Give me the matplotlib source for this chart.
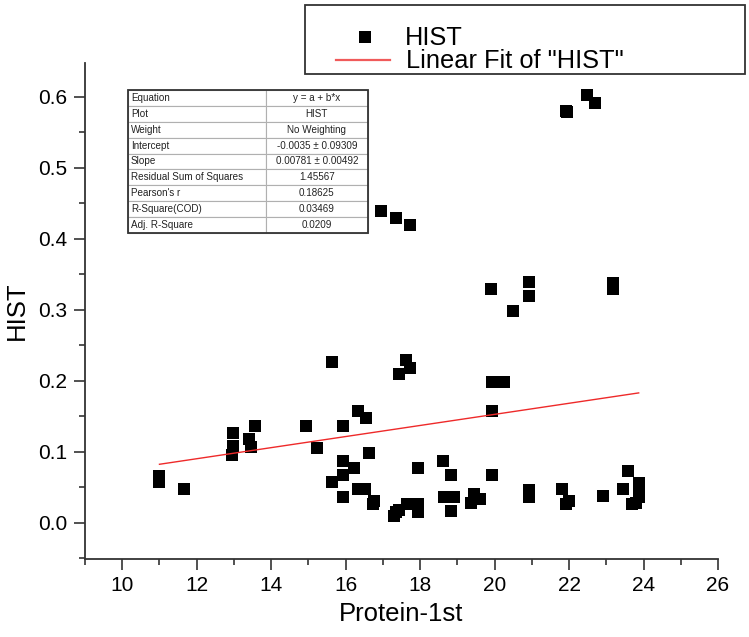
import matplotlib
matplotlib.use("Agg")
import matplotlib.pyplot as plt
from matplotlib.patches import Rectangle
from matplotlib.lines import Line2D
from matplotlib.ticker import MultipleLocator
import numpy as np

plt.rcParams['font.family'] = ['Liberation Sans', 'DejaVu Sans']

# ---- data ----
protein = [11.0, 11.0, 11.67, 12.97, 12.97, 12.95, 13.56, 13.41, 13.47, 14.94,
           15.23, 15.64, 15.94, 16.34, 16.54, 16.64, 15.94, 16.22, 15.94, 15.64,
           15.94, 16.33, 16.53, 16.73, 16.76, 16.94, 17.34, 17.72, 17.63, 17.72,
           17.43, 17.94, 17.36, 17.43, 17.31, 17.64, 17.94, 17.94, 18.61, 18.82,
           18.63, 18.92, 18.82, 19.37, 19.60, 19.45, 19.91, 19.94, 20.10, 20.26,
           19.92, 19.92, 20.49, 20.92, 20.92, 20.92, 20.92, 21.82, 21.91, 21.95,
           21.93, 22.00, 22.49, 22.71, 22.91, 23.18, 23.18, 23.58, 23.45, 23.87,
           23.87, 23.87, 23.80, 23.70]
hist = [0.066, 0.058, 0.047, 0.127, 0.108, 0.096, 0.137, 0.118, 0.107, 0.137,
        0.106, 0.227, 0.137, 0.158, 0.147, 0.098, 0.087, 0.077, 0.068, 0.058,
        0.037, 0.047, 0.047, 0.027, 0.030, 0.439, 0.429, 0.419, 0.229, 0.218,
        0.209, 0.077, 0.015, 0.018, 0.009, 0.027, 0.027, 0.015, 0.087, 0.067,
        0.037, 0.037, 0.017, 0.028, 0.033, 0.040, 0.329, 0.198, 0.198, 0.198,
        0.158, 0.067, 0.298, 0.339, 0.319, 0.046, 0.036, 0.047, 0.580, 0.578,
        0.027, 0.030, 0.602, 0.591, 0.038, 0.338, 0.329, 0.073, 0.047, 0.056,
        0.046, 0.036, 0.028, 0.026]

intercept = -0.0035
slope = 0.00781

table_labels = ["Equation", "Plot", "Weight", "Intercept", "Slope",
                "Residual Sum of Squares", "Pearson's r", "R-Square(COD)",
                "Adj. R-Square"]
table_values = ["y = a + b*x", "HIST", "No Weighting", "-0.0035 \u00b1 0.09309",
                "0.00781 \u00b1 0.00492", "1.45567", "0.18625", "0.03469", "0.0209"]

xticks = [10, 12, 14, 16, 18, 20, 22, 24, 26]
yticks = [0.0, 0.1, 0.2, 0.3, 0.4, 0.5, 0.6]

# ---- figure ----
W, H = 749, 637
fig = plt.figure(figsize=(W / 100, H / 100), dpi=100)
ax = fig.add_axes([85 / W, 1 - 559 / H, 633 / W, (559 - 62.7) / H])

ax.plot(protein, hist, linestyle='none', marker='s', markersize=8.6,
        color='black', markeredgewidth=0)

xf = np.array([min(protein), max(protein)])
ax.plot(xf, intercept + slope * xf, color='#ee2a2a', linewidth=1.0)

ax.set_xlim(9, 26)
ax.set_ylim(-0.051, 0.648)
ax.set_xticks(xticks)
ax.set_yticks(yticks)
ax.set_yticklabels([f"{v:.1f}" for v in yticks])
ax.xaxis.set_minor_locator(MultipleLocator(1))
ax.yaxis.set_minor_locator(MultipleLocator(0.05))

for s in ['top', 'right']:
    ax.spines[s].set_visible(False)
for s in ['left', 'bottom']:
    ax.spines[s].set_color('#333333')
    ax.spines[s].set_linewidth(1.3)

ax.tick_params(which='major', direction='out', length=8, width=1.2,
               color='#333333', labelsize=15, pad=4)
ax.tick_params(which='minor', direction='out', length=4, width=1.2,
               color='#333333')
ax.tick_params(axis='y', which='major', pad=5)

ax.set_xlabel("Protein-1st", fontsize=18.5, labelpad=5)
ax.set_ylabel("HIST", fontsize=18.5, labelpad=6)

# ---- statistics table ----
tb_left, tb_bottom = (128 - 85) / 633, (559 - 233) / (559 - 62.7)
tb_w, tb_h = 240 / 633, 143 / (559 - 62.7)
cell_text = [[a, b] for a, b in zip(table_labels, table_values)]
tbl = ax.table(cellText=cell_text, colWidths=[0.574, 0.426],
               bbox=[tb_left, tb_bottom, tb_w, tb_h], zorder=5)
tbl.auto_set_font_size(False)
for (r, c), cell in tbl.get_celld().items():
    cell.set_edgecolor('#b0b0b0')
    cell.set_linewidth(0.8)
    cell.set_facecolor('white')
    txt = cell.get_text()
    txt.set_fontsize(7.1)
    txt.set_color('#222222')
    if c == 0:
        txt.set_ha('left')
        cell.PAD = 0.02
    else:
        txt.set_ha('center')
ax.add_patch(Rectangle((tb_left, tb_bottom), tb_w, tb_h, transform=ax.transAxes,
                       fill=False, edgecolor='#333333', linewidth=1.3, zorder=6))

# ---- legend (drawn in figure coordinates) ----
fig.patches.append(Rectangle((305 / W, 1 - 74 / H), 440 / W, 69 / H,
                             transform=fig.transFigure, fill=True,
                             facecolor='white', edgecolor='#333333',
                             linewidth=1.3, zorder=10))
fig.lines.append(Line2D([365 / W], [1 - 36.7 / H], transform=fig.transFigure,
                        marker='s', markersize=8.6, color='black',
                        markeredgewidth=0, linestyle='none', zorder=11))
fig.lines.append(Line2D([336 / W, 390 / W], [1 - 59.5 / H, 1 - 59.5 / H],
                        transform=fig.transFigure, color='#f05a5a',
                        linewidth=1.6, zorder=11))
fig.text(405 / W, 1 - 45 / H, "HIST", fontsize=18.3, va='baseline',
         ha='left', zorder=12)
fig.text(406 / W, 1 - 68.3 / H, 'Linear Fit of "HIST"', fontsize=18.3,
         va='baseline', ha='left', zorder=12)

fig.savefig("out.png", dpi=100)
